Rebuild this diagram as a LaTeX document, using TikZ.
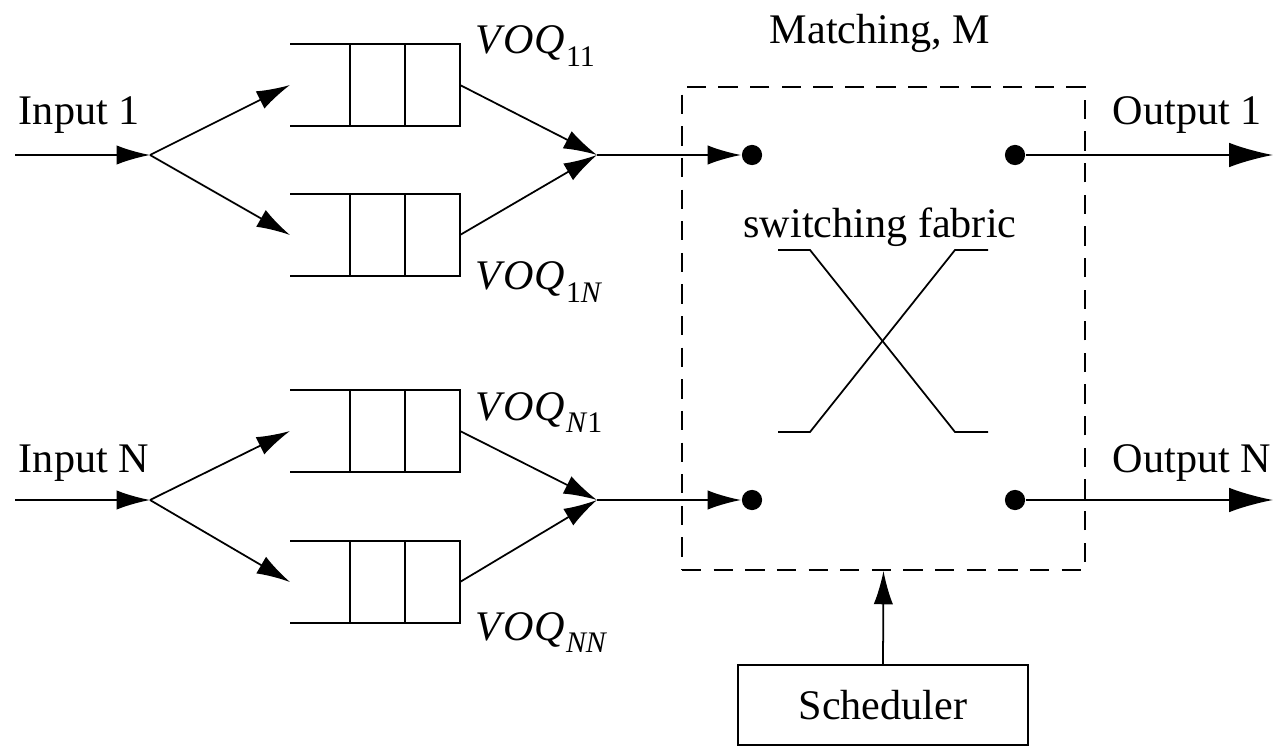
\documentclass[tikz,border=0pt]{standalone}
\usepackage{fontspec}
\setmainfont{Liberation Serif}
\usetikzlibrary{arrows.meta}
\begin{document}
\begin{tikzpicture}[x=0.02cm,y=-0.02cm, line width=1pt,
  arr/.style={-{Latex[length=19pt,width=11pt]}},
  bigarr/.style={-{Latex[length=25pt,width=14pt]}},
  lbl/.style={font=\fontsize{24}{28}\selectfont, inner sep=0pt},
  dotnode/.style={circle,fill,inner sep=0pt,minimum size=11.5pt},
  voq/.pic={
    \draw (0,-41) -- (170,-41) -- (170,41) -- (0,41);
    \draw (60,-41) -- (60,41) (115,-41) -- (115,41);
    \coordinate (-in) at (0,0);
    \coordinate (-out) at (170,0);
  }]
\useasboundingbox (0,0) rectangle (1276,750);
\newcommand{\voqlabel}[1]{\textit{V\kern1pt O\kern0.5pt Q}\kern0.5pt\raisebox{-0.3em}{\fontsize{17}{17}\selectfont #1}}

% queues
\pic (q11) at (290,85) {voq};
\pic (q1n) at (290,235) {voq};
\pic (qn1) at (290,431) {voq};
\pic (qnn) at (290,582) {voq};

% split / merge points
\coordinate (s1) at (150,155);
\coordinate (sn) at (150,500);
\coordinate (m1) at (597,155);
\coordinate (mn) at (597,500);
\coordinate (in1) at (15,155);
\coordinate (inn) at (15,500);

% labels
\node[lbl, anchor=base west] (lin1) at (18,125) {Input 1};
\node[lbl, anchor=base west] (linn) at (18,472) {Input N};
\node[lbl, anchor=base west] (l11) at (475,54) {\voqlabel{11}};
\node[lbl, anchor=base west] (l1n) at (475,290) {\voqlabel{1\textit{N}}};
\node[lbl, anchor=base west] (ln1) at (475,420) {\voqlabel{\textit{N}1}};
\node[lbl, anchor=base west] (lnn) at (475,640) {\voqlabel{\textit{NN}}};
\node[lbl, anchor=base] (lmatch) at (880,44) {Matching, M};
\node[lbl, anchor=base west] (lo1) at (1112,125) {Output 1};
\node[lbl, anchor=base west] (lon) at (1112,472) {Output N};
\node[lbl, anchor=base] (lsf) at (880,237) {switching fabric};

% dashed box
\node[draw, dash pattern=on 11pt off 7pt, minimum width=403*0.02cm, minimum height=483*0.02cm, inner sep=0pt] (fab) at (883.5,328.5) {};

% dots
\node[dotnode] (d1l) at (752,155) {};
\node[dotnode] (dnl) at (752,500) {};
\node[dotnode] (d1r) at (1015,155) {};
\node[dotnode] (dnr) at (1015,500) {};
\coordinate (o1) at (1273,155);
\coordinate (on) at (1273,500);

% scheduler
\node[lbl, draw, minimum width=290*0.02cm, minimum height=80*0.02cm] (sch) at (883,705) {Scheduler};

% crossbar
\draw (778,250) -- (810,250) -- (955,432) -- (988,432);
\draw (988,250) -- (955,250) -- (810,432) -- (778,432);

% connectors
\draw[arr] (in1) -- (s1);
\draw[arr] (inn) -- (sn);
\draw[arr] (s1) -- (q11-in);
\draw[arr] (s1) -- (q1n-in);
\draw[arr] (sn) -- (qn1-in);
\draw[arr] (sn) -- (qnn-in);
\draw[arr] (q11-out) -- (m1);
\draw[arr] (q1n-out) -- (m1);
\draw[arr] (qn1-out) -- (mn);
\draw[arr] (qnn-out) -- (mn);
\draw[arr] (m1) -- (d1l.west);
\draw[arr] (mn) -- (dnl.west);
\draw[bigarr] (d1r) -- (o1);
\draw[bigarr] (dnr) -- (on);
\draw[arr] (sch.north) -- (fab.south);
\end{tikzpicture}
\end{document}
